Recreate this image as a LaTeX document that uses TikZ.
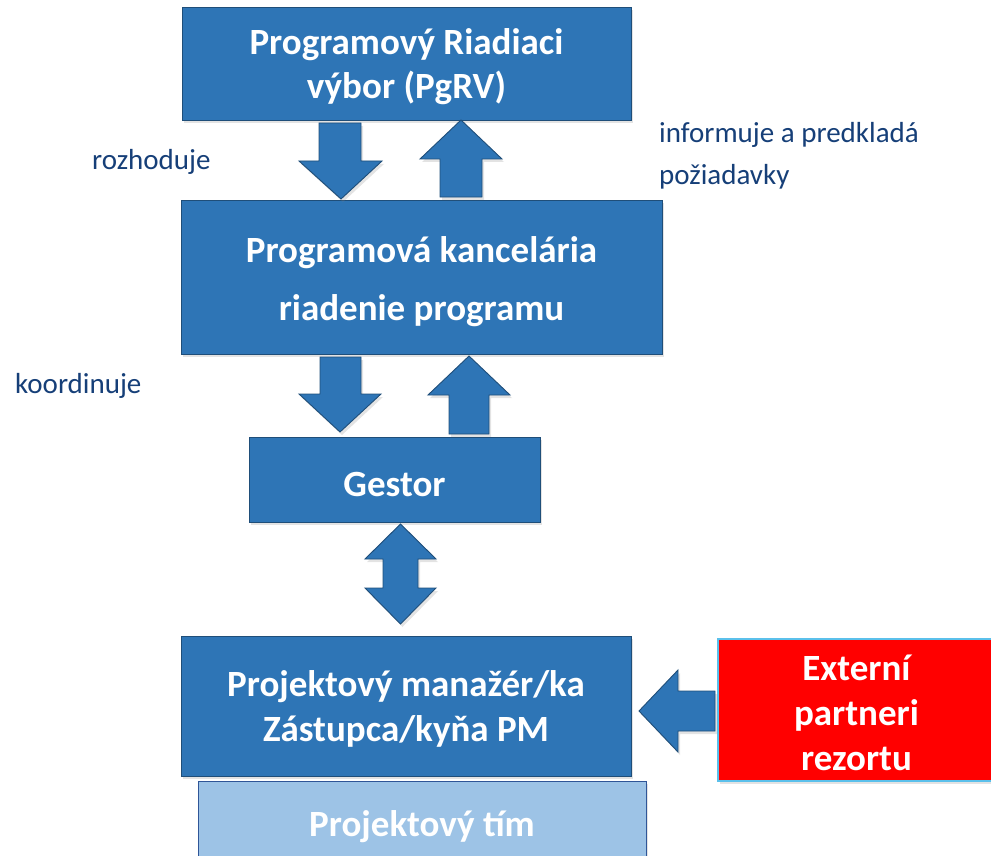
\documentclass[tikz,border=0pt]{standalone}
\usepackage{fontspec}
\setmainfont{Carlito}
\usetikzlibrary{shadows}
\definecolor{boxblue}{HTML}{2E75B6}
\definecolor{boxedge}{HTML}{1F4E79}
\definecolor{lightblue}{HTML}{9DC3E6}
\definecolor{lightedge}{HTML}{2F5597}
\definecolor{labelblue}{HTML}{163F78}
\definecolor{redbox}{HTML}{FF0000}
\definecolor{rededge}{HTML}{5BC0EB}
\tikzset{
  shad/.style={drop shadow={shadow xshift=2pt, shadow yshift=-3pt, opacity=0.22}},
  bluebox/.style={rectangle, fill=boxblue, draw=boxedge, line width=0.9pt, shad, inner sep=0pt},
  lightbox/.style={bluebox, fill=lightblue, draw=lightedge},
  redboxst/.style={bluebox, fill=redbox, draw=rededge, line width=1.2pt},
  boxtext/.style={text=white, font=\fontsize{37}{44}\selectfont\bfseries, align=center, inner sep=0pt},
  blockarrow/.style={fill=boxblue, draw=boxedge, line width=0.9pt, line join=miter, shad},
  lbl/.style={text=labelblue, font=\fontsize{29}{42}\selectfont, anchor=base west, inner sep=0pt, align=left}
}
\begin{document}
\begin{tikzpicture}[x=1pt, y=-1pt]
\useasboundingbox (0,0) rectangle (991,856);
\clip (0,0) rectangle (991,856);

% boxes
\node[bluebox, minimum width=449pt, minimum height=113pt] (pgrv) at (406.5,63.5) {};
\node[bluebox, minimum width=481pt, minimum height=154pt] (pk) at (421.5,277) {};
\node[bluebox, minimum width=291pt, minimum height=85pt] (gestor) at (394.5,479.5) {};
\node[lightbox, minimum width=448pt, minimum height=80pt] (tim) at (422,821) {};
\node[bluebox, minimum width=450pt, minimum height=140pt] (pm) at (406,706) {};
\node[redboxst, minimum width=277pt, minimum height=142pt] (ext) at (856.5,710) {};

% box texts
\node[boxtext, yshift=-3pt] (pgrv-t) at (pgrv.center) {Programový Riadiaci\\výbor (PgRV)};
\node[boxtext, yshift=-5pt] (pk-t) at (pk.center) {Programová kancelária\\[14pt]riadenie programu};
\node[boxtext, yshift=-5pt] (gestor-t) at (gestor.center) {Gestor};
\node[boxtext, yshift=-6pt] (tim-t) at (tim.center) {Projektový tím};
\node[boxtext, yshift=-3pt] (pm-t) at (pm.center) {Projektový manažér/ka\\[1pt]Zástupca/kyňa PM};
\node[boxtext, yshift=-3pt] (ext-t) at (ext.center) {Externí\\[1pt]partneri\\[1pt]rezortu};

% block arrows
% PgRV -> PK (down)
\draw[blockarrow] (319,123) -- (361,123) -- (361,161) -- (382,161) -- (341,199)
  -- (299,161) -- (319,161) -- cycle;
% PK -> PgRV (up)
\draw[blockarrow] (461,120) -- (502,159) -- (482,159) -- (482,197) -- (440,197)
  -- (440,159) -- (420,159) -- cycle;
% PK -> Gestor (down)
\draw[blockarrow] (320,357) -- (361,357) -- (361,394) -- (381,394) -- (340,432)
  -- (299,394) -- (320,394) -- cycle;
% Gestor -> PK (up)
\draw[blockarrow] (469,356) -- (510,395) -- (489,395) -- (489,434) -- (449,434)
  -- (449,395) -- (428,395) -- cycle;
% Gestor <-> PM (double)
\draw[blockarrow] (400.5,524) -- (436,559) -- (418,559) -- (418,588) -- (436,588)
  -- (400.5,624) -- (365,588) -- (383,588) -- (383,559) -- (365,559) -- cycle;
% Ext -> PM (left)
\draw[blockarrow] (639,711) -- (678,670) -- (678,691) -- (715,691) -- (715,731)
  -- (678,731) -- (678,752) -- cycle;

% labels
\node[lbl] (l1) at (92,170) {rozhoduje};
\node[lbl] (l2) at (15,393) {koordinuje};
\node[lbl] (l3) at (659,143) {informuje a predkladá};
\node[lbl] (l4) at (659,185) {požiadavky};
\end{tikzpicture}
\end{document}
